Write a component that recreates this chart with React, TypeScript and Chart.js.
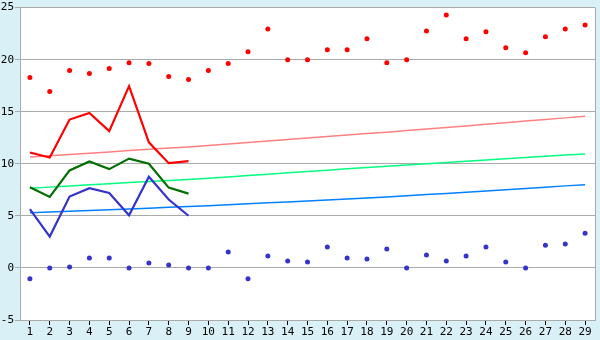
import React, { useEffect, useRef } from "react";
import { Chart, registerables } from "chart.js";

Chart.register(...registerables);

const categories = ["1","2","3","4","5","6","7","8","9","10","11","12","13","14","15","16","17","18","19","20","21","22","23","24","25","26","27","28","29"];

const redPoints = [18.29,16.95,18.95,18.67,19.14,19.71,19.62,18.38,18.1,18.95,19.62,20.76,22.95,20.0,20.0,20.95,20.95,22.0,19.71,20.0,22.76,24.29,22.0,22.67,21.14,20.67,22.19,22.95,23.33];
const bluePoints = [-1.05,0,0.1,0.95,0.95,0,0.48,0.29,0,0,1.52,-1.05,1.14,0.67,0.57,2.0,0.95,0.86,1.81,0,1.24,0.67,1.14,2.0,0.57,0,2.19,2.29,3.33];

const redLine = [11.08,10.6,14.25,14.88,13.14,17.46,12.06,10.06,10.25];
const greenLine = [7.74,6.82,9.36,10.22,9.49,10.5,10.0,7.71,7.14];
const blueLine = [5.65,3.01,6.86,7.65,7.2,5.05,8.76,6.57,5.01];

const redTrend = [10.65,10.77,10.89,11.01,11.14,11.27,11.4,11.52,11.62,11.76,11.9,12.04,12.19,12.33,12.47,12.61,12.76,12.9,13.04,13.19,13.34,13.49,13.64,13.8,13.95,14.1,14.26,14.41,14.57];
const greenTrend = [7.65,7.76,7.87,7.98,8.09,8.2,8.3,8.4,8.5,8.62,8.74,8.87,9.0,9.13,9.26,9.39,9.52,9.65,9.77,9.88,10.0,10.12,10.24,10.36,10.48,10.6,10.72,10.84,10.95];
const blueTrend = [5.3,5.37,5.44,5.51,5.59,5.66,5.74,5.82,5.9,5.98,6.07,6.16,6.25,6.34,6.43,6.52,6.62,6.72,6.82,6.93,7.04,7.15,7.27,7.39,7.51,7.63,7.75,7.88,8.0];

const yMin = -5;
const yMax = 25;
const yStep = 5;

const areaPlugin = {
  id: "areaPlugin",
  beforeDraw(chart: any) {
    const { ctx, chartArea, width, height } = chart;
    ctx.save();
    ctx.fillStyle = "#DAF0F7";
    ctx.fillRect(0, 0, width, height);
    ctx.fillStyle = "#FFFFFF";
    ctx.fillRect(chartArea.left, chartArea.top, chartArea.right - chartArea.left, chartArea.bottom - chartArea.top);
    ctx.restore();
  },
  afterDraw(chart: any) {
    const { ctx, chartArea } = chart;
    ctx.save();
    ctx.strokeStyle = "#AAAAAA";
    ctx.lineWidth = 1;
    ctx.beginPath();
    const x = Math.round(chartArea.right) + 0.5;
    ctx.moveTo(x, chartArea.top);
    ctx.lineTo(x, chartArea.bottom + 0.5);
    ctx.stroke();
    ctx.restore();
  },
};

export default function App() {
  const ref = useRef<HTMLCanvasElement | null>(null);
  useEffect(() => {
    document.body.style.margin = "0";
    if (!ref.current) return;
    const pad = (arr: number[]) => categories.map((_, i) => (i < arr.length ? arr[i] : null));
    const chart = new Chart(ref.current, {
      type: "line",
      data: {
        labels: categories,
        datasets: [
          { data: pad(redLine), borderColor: "#FF0000", borderWidth: 2.2, pointRadius: 0, fill: false, tension: 0 },
          { data: pad(greenLine), borderColor: "#006E00", borderWidth: 2.2, pointRadius: 0, fill: false, tension: 0 },
          { data: pad(blueLine), borderColor: "#3434CC", borderWidth: 2.2, pointRadius: 0, fill: false, tension: 0 },
          { data: redPoints, showLine: false, pointStyle: "circle", pointRadius: 2.5, pointBackgroundColor: "#FF0000", pointBorderColor: "#FF0000", pointBorderWidth: 0 },
          { data: bluePoints, showLine: false, pointStyle: "circle", pointRadius: 2.5, pointBackgroundColor: "#3434CC", pointBorderColor: "#3434CC", pointBorderWidth: 0 },
          { data: redTrend, borderColor: "#FF8080", borderWidth: 1.5, pointRadius: 0, fill: false, tension: 0 },
          { data: greenTrend, borderColor: "#00FF80", borderWidth: 1.5, pointRadius: 0, fill: false, tension: 0 },
          { data: blueTrend, borderColor: "#0080FF", borderWidth: 1.5, pointRadius: 0, fill: false, tension: 0 },
        ] as any,
      },
      options: {
        animation: false,
        responsive: false,
        events: [],
        layout: { padding: { top: 5, right: 5, left: 0, bottom: 0 } },
        plugins: { legend: { display: false }, tooltip: { enabled: false } },
        scales: {
          x: {
            offset: true,
            grid: { drawOnChartArea: false, drawTicks: true, tickLength: 5, color: "#000000" },
            border: { display: true, color: "#AAAAAA" },
            ticks: { color: "#000000", font: { family: "DejaVu Sans Mono", size: 11 }, padding: 1, maxRotation: 0, autoSkip: false },
            afterFit: (s: any) => { s.height = 20; },
          },
          y: {
            min: yMin,
            max: yMax,
            grid: { color: "#AAAAAA", tickLength: 5, drawTicks: true },
            border: { display: true, color: "#AAAAAA" },
            ticks: { stepSize: yStep, color: "#000000", font: { family: "DejaVu Sans Mono", size: 11 }, padding: 1 },
            afterFit: (s: any) => { s.width = 20; },
          },
        },
      },
      plugins: [areaPlugin],
    });
    return () => chart.destroy();
  }, []);
  return <canvas ref={ref} width={600} height={340} style={{ display: "block" }} />;
}
